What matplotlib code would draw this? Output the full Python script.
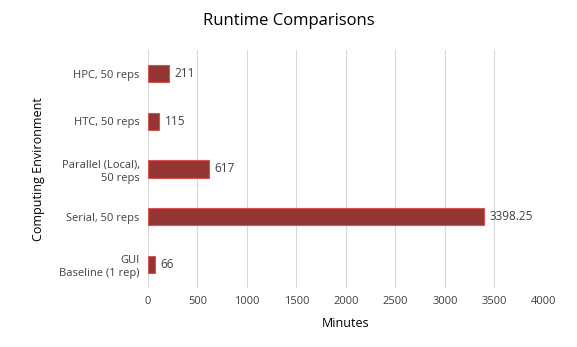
import matplotlib
matplotlib.use('Agg')
import matplotlib.pyplot as plt

# Dados do gráfico (de baixo para cima)
categories = ["GUI\nBaseline (1 rep)", "Serial, 50 reps", "Parallel (Local),\n50 reps",
              "HTC, 50 reps", "HPC, 50 reps"]
minutes = [66, 3398.25, 617, 115, 211]
value_labels = ["66", "3398.25", "617", "115", "211"]
x_ticks = [0, 500, 1000, 1500, 2000, 2500, 3000, 3500, 4000]

COLOR_BAR = "#943634"
COLOR_EDGE = "#D9534F"
COLOR_TEXT = "#404040"

plt.rcParams['font.family'] = ['Open Sans', 'DejaVu Sans']

fig = plt.figure(figsize=(5.77, 3.47), dpi=100)
ax = fig.add_axes([0.2565, 0.170, 0.6863, 0.686])

y_pos = list(range(len(categories)))
ax.barh(y_pos, minutes, height=0.36, color=COLOR_BAR, edgecolor=COLOR_EDGE,
        linewidth=0.8, zorder=3)

# Rótulos de valor à direita das barras
for y, v, lab in zip(y_pos, minutes, value_labels):
    ax.text(v + 55, y, lab, ha='left', va='center', fontsize=8.5, color=COLOR_TEXT)

ax.set_xlim(0, 4000)
ax.set_ylim(-0.5, len(categories) - 0.5)
ax.set_xticks(x_ticks)
ax.set_xticklabels([str(t) for t in x_ticks], fontsize=8, color=COLOR_TEXT)
ax.set_yticks(y_pos)
ax.set_yticklabels(categories, fontsize=8, color=COLOR_TEXT, linespacing=1.3)
ax.tick_params(length=0, pad=6)

ax.grid(True, axis='x', color='#D9D9D9', linewidth=0.8, zorder=0)
for s in ax.spines.values():
    s.set_visible(False)

ax.set_xlabel("Minutes", fontsize=9, color='black', labelpad=7)
ax.set_ylabel("Computing Environment", fontsize=9, color='black', labelpad=10)
fig.text(0.5, 0.94, "Runtime Comparisons", ha='center', va='center', fontsize=12, color='black')

plt.savefig("out.png", dpi=100, facecolor='white')
plt.close()
